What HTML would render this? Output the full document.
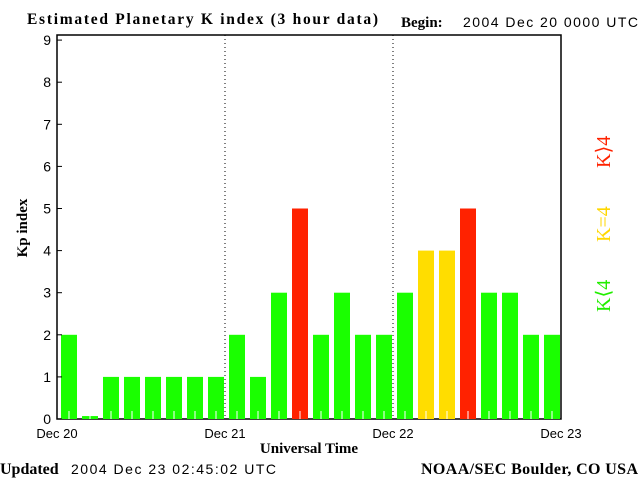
<!DOCTYPE html>
<html><head><style>
body{margin:0;background:#fff;}
</style></head><body>
<svg id="c" width="640" height="480" xmlns="http://www.w3.org/2000/svg" font-family="Liberation Sans, sans-serif">
<text x="27" y="24" font-family="Liberation Serif" font-weight="bold" font-size="15.5" textLength="351">Estimated Planetary K index (3 hour data)</text>
<text x="401" y="27" font-family="Liberation Serif" font-weight="bold" font-size="15">Begin:</text>
<text x="463" y="27" font-size="14" textLength="175">2004 Dec 20 0000 UTC</text>
<rect x="57" y="35" width="504" height="384" fill="none" stroke="#000" stroke-width="1.5"/>
<g id="bars"></g><g id="yt"></g><g id="xt"></g>
<text x="0" y="0" transform="translate(27,228) rotate(-90)" text-anchor="middle" font-family="Liberation Serif" font-weight="bold" font-size="15">Kp index</text>
<text x="309" y="453" text-anchor="middle" font-family="Liberation Serif" font-weight="bold" font-size="15">Universal Time</text>
<text x="0" y="474" font-family="Liberation Serif" font-weight="bold" font-size="16">Updated</text>
<text x="71" y="474" font-size="14" textLength="205">2004 Dec 23 02:45:02 UTC</text>
<text x="638" y="474" text-anchor="end" font-family="Liberation Serif" font-weight="bold" font-size="16" textLength="217">NOAA/SEC Boulder, CO USA</text>
<text transform="translate(610,312) rotate(-90)" font-family="Liberation Serif" font-size="20" fill="#22ee00">K⟨4</text>
<text transform="translate(610,242) rotate(-90)" font-family="Liberation Serif" font-size="20" fill="#ffd700">K=4</text>
<text transform="translate(610,168) rotate(-90)" font-family="Liberation Serif" font-size="20" fill="#ff2200">K⟩4</text>
</svg>
<script>
const kpValues=[2,0.07,1,1,1,1,1,1, 2,1,3,5,2,3,2,2, 3,4,4,5,3,3,2,2];
const yTicks=[0,1,2,3,4,5,6,7,8,9];
const dayLabels=["Dec 20","Dec 21","Dec 22","Dec 23"];
const NS="http://www.w3.org/2000/svg";
const X0=57,X1=561,Y0=419,U=42.1;
const xs=i=>X0+(X1-X0)*i/kpValues.length;
const ys=v=>Y0-v*U;
function mk(t,a,p){const e=document.createElementNS(NS,t);for(const k in a)e.setAttribute(k,a[k]);p.appendChild(e);return e;}
const bars=document.getElementById('bars');
kpValues.forEach((v,i)=>{
 const col=v>4?'#ff2200':(v===4?'#ffdd00':'#1aff00');
 const r=mk('rect',{x:xs(i)+4,y:ys(v),width:16,height:Y0-ys(v),fill:col},bars);
 
 
 mk('line',{x1:xs(i)+12,x2:xs(i)+12,y1:Y0-8,y2:Y0,stroke:'#fff'},bars);
});
const yt=document.getElementById('yt');
yTicks.forEach(t=>{
 mk('line',{x1:X0,x2:X0+5,y1:ys(t),y2:ys(t),stroke:'#000'},yt);
 const tx=mk('text',{x:X0-6,y:ys(t)+5,'text-anchor':'end','font-size':14},yt);
 tx.textContent=t;
 
 
});
const xt=document.getElementById('xt');
dayLabels.forEach((d,i)=>{
 const x=X0+(X1-X0)*i/3;
 if(i>0&&i<3){const l=mk('line',{x1:x,x2:x,y1:35,y2:Y0,stroke:'#000','stroke-dasharray':'1 3'},xt);
  
  }
 const tx=mk('text',{x:x,y:438,'text-anchor':'middle','font-size':13},xt);
 tx.textContent=d;
 
 
});
</script>
</body></html>
